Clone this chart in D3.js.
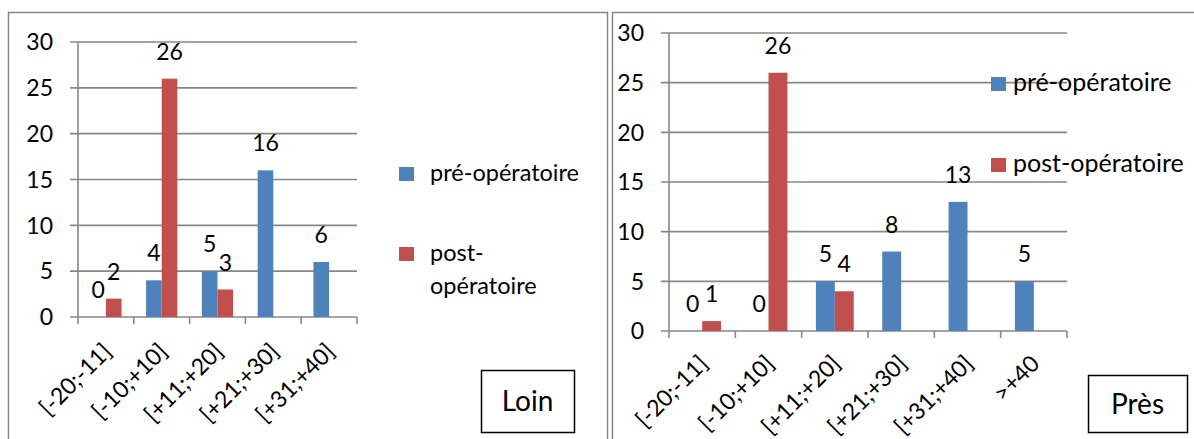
<!DOCTYPE html>
<html>
<head>
<meta charset="utf-8">
<script src="https://cdn.jsdelivr.net/npm/d3@7"></script>
<style>
  body { margin: 0; background: #fff; }
  svg { display: block; font-family: Lato, "Open Sans", sans-serif; }
</style>
</head>
<body>
<div id="chart"></div>
<script>
// Data
var catsLoin = ["[-20;-11]", "[-10;+10]", "[+11;+20]", "[+21;+30]", "[+31;+40]"];
var preLoin = [0, 4, 5, 16, 6];
var postLoin = [2, 26, 3, null, null];

var catsPres = ["[-20;-11]", "[-10;+10]", "[+11;+20]", "[+21;+30]", "[+31;+40]", ">+40"];
var prePres = [0, 0, 5, 8, 13, 5];
var postPres = [1, 26, 4, null, null, null];

var seriesNames = ["pré-opératoire", "post-opératoire"];
var seriesColors = ["#4F81BD", "#C0504D"];
var yTicks = [0, 5, 10, 15, 20, 25, 30];

var svg = d3.select("#chart").append("svg")
    .attr("width", 1194)
    .attr("height", 439);

var fontSize = 23;
var gridCol = "#878787";

// panel borders
svg.append("rect")
    .attr("x", 8.5).attr("y", 12.5)
    .attr("width", 599).attr("height", 440)
    .style("fill", "none").style("stroke", gridCol).style("stroke-width", 1.5);
svg.append("rect")
    .attr("x", 612.5).attr("y", 12.5)
    .attr("width", 600).attr("height", 440)
    .style("fill", "none").style("stroke", gridCol).style("stroke-width", 1.5);

function drawChart(opt) {
    var g = svg.append("g")
        .attr("transform", "translate(" + opt.left + "," + opt.top + ")");

    var y = d3.scaleLinear().domain([0, 30]).range([opt.height, 0]);
    var x0 = d3.scaleBand().domain(opt.cats).range([0, opt.width]);
    var bw = x0.bandwidth();
    var x1 = d3.scaleBand().domain([0, 1]).range([bw * opt.groupPad, bw * (1 - opt.groupPad)]);

    // gridlines
    g.selectAll("line.grid")
        .data(yTicks.slice(1))
        .enter().append("line")
        .attr("class", "grid")
        .attr("x1", -8).attr("x2", opt.width)
        .attr("y1", function (d) { return y(d); })
        .attr("y2", function (d) { return y(d); })
        .style("stroke", gridCol).style("stroke-width", 1.6);

    // y axis line
    g.append("line")
        .attr("x1", 0).attr("x2", 0)
        .attr("y1", y(0)).attr("y2", y(30))
        .style("stroke", gridCol).style("stroke-width", 1.6);

    // x axis line + ticks
    g.append("line")
        .attr("x1", -8).attr("x2", opt.width)
        .attr("y1", y(0)).attr("y2", y(0))
        .style("stroke", gridCol).style("stroke-width", 1.6);
    var bounds = opt.cats.map(function (c) { return x0(c); }).concat([opt.width]);
    g.selectAll("line.xtick")
        .data(bounds)
        .enter().append("line")
        .attr("class", "xtick")
        .attr("x1", function (d) { return d; }).attr("x2", function (d) { return d; })
        .attr("y1", y(0)).attr("y2", y(0) + 7)
        .style("stroke", gridCol).style("stroke-width", 1.6);

    // y tick labels
    g.selectAll("text.ytick")
        .data(yTicks)
        .enter().append("text")
        .attr("class", "ytick")
        .attr("x", -25)
        .attr("y", function (d) { return y(d); })
        .attr("dy", "0.36em")
        .attr("text-anchor", "end")
        .style("font-size", fontSize + "px")
        .text(function (d) { return d; });

    // x tick labels
    g.selectAll("text.xlab")
        .data(opt.cats)
        .enter().append("text")
        .attr("class", "xlab")
        .attr("transform", function (d) {
            return "translate(" + (x0(d) + bw / 2 + 7) + "," + (y(0) + opt.xlabDy) + ") rotate(-45)";
        })
        .attr("text-anchor", "end")
        .style("font-size", fontSize + "px")
        .text(function (d) { return d; });

    // bars
    var series = [opt.pre, opt.post];
    series.forEach(function (vals, si) {
        var pts = opt.cats.map(function (c, i) { return {cat: c, v: vals[i]}; })
            .filter(function (d) { return d.v !== null; });
        g.selectAll("rect.s" + si)
            .data(pts)
            .enter().append("rect")
            .attr("class", "s" + si)
            .attr("x", function (d) { return x0(d.cat) + x1(si); })
            .attr("width", x1.bandwidth())
            .attr("y", function (d) { return y(d.v); })
            .attr("height", function (d) { return y(0) - y(d.v); })
            .style("fill", seriesColors[si]);
        g.selectAll("text.v" + si)
            .data(pts)
            .enter().append("text")
            .attr("class", "v" + si)
            .attr("x", function (d) { return x0(d.cat) + x1(si) + x1.bandwidth() / 2; })
            .attr("y", function (d) { return y(d.v) - 19; })
            .attr("text-anchor", "middle")
            .style("font-size", fontSize + "px")
            .text(function (d) { return d.v; });
    });

    // legend
    opt.legend.forEach(function (lg, i) {
        svg.append("rect")
            .attr("x", lg.x).attr("y", lg.y - 14)
            .attr("width", 15).attr("height", 14)
            .style("fill", seriesColors[i]);
        var t = svg.append("text")
            .attr("x", lg.x + opt.legendGap).attr("y", lg.y)
            .style("font-size", opt.legendFont + "px");
        lg.lines.forEach(function (ln, j) {
            t.append("tspan")
                .attr("x", lg.x + opt.legendGap)
                .attr("dy", j === 0 ? 0 : 33)
                .text(ln);
        });
    });

    // title box
    svg.append("rect")
        .attr("x", opt.box.x + 0.5).attr("y", opt.box.y + 0.5)
        .attr("width", opt.box.w).attr("height", opt.box.h)
        .style("fill", "#fff").style("stroke", "#000").style("stroke-width", 1.5);
    svg.append("text")
        .attr("x", opt.box.x + opt.box.w / 2)
        .attr("y", opt.box.y + opt.box.h / 2)
        .attr("dy", "0.36em")
        .attr("text-anchor", "middle")
        .style("font-size", "28px")
        .text(opt.box.label);
}

drawChart({
    cats: catsLoin, pre: preLoin, post: postLoin,
    left: 78, top: 42, width: 279, height: 275,
    groupPad: 0.22, xlabDy: 36,
    legendFont: 23.5, legendGap: 31,
    legend: [
        {x: 399, y: 181, lines: [seriesNames[0]]},
        {x: 399, y: 261, lines: ["post-", "opératoire"]}
    ],
    box: {x: 481, y: 370, w: 93, h: 62, label: "Loin"}
});

drawChart({
    cats: catsPres, pre: prePres, post: postPres,
    left: 669, top: 33, width: 398, height: 298,
    groupPad: 0.215, xlabDy: 34,
    legendFont: 25, legendGap: 22,
    legend: [
        {x: 991, y: 91, lines: [seriesNames[0]]},
        {x: 991, y: 172, lines: [seriesNames[1]]}
    ],
    box: {x: 1088, y: 375, w: 99, h: 57, label: "Près"}
});
</script>
</body>
</html>
